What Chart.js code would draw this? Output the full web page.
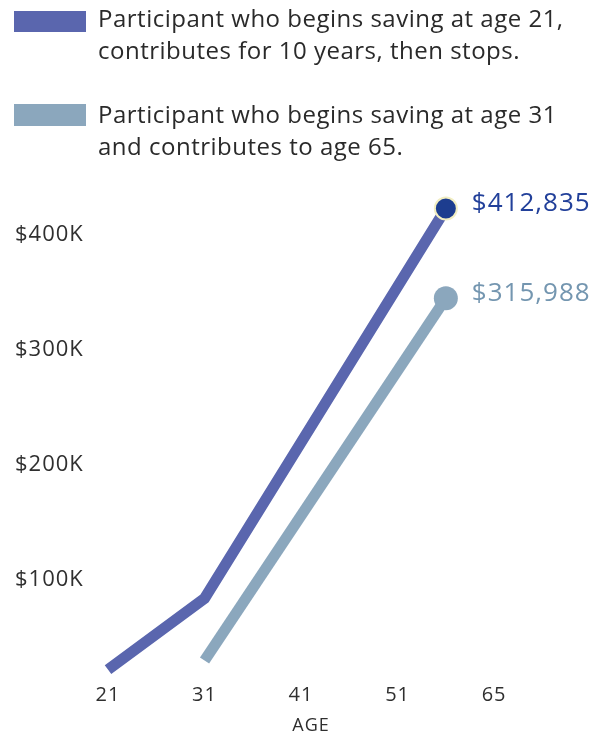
<!DOCTYPE html>
<html>
<head>
<meta charset="utf-8">
<script src="https://cdn.jsdelivr.net/npm/chart.js@4"></script>
<style>
  html, body { margin: 0; padding: 0; background: #fff; }
  body { width: 605px; height: 731px; position: relative; overflow: hidden; font-family: "Open Sans", sans-serif; }
  #wrap { position: absolute; left: 0; top: 0; width: 605px; height: 731px; }
  .sw { position: absolute; left: 14px; width: 72px; }
  .lt { position: absolute; left: 98px; font-size: 24px; line-height: 32px; letter-spacing: 0.5px; color: #2a2a2a; white-space: nowrap; }
</style>
</head>
<body>
<div id="wrap"><canvas id="c" width="605" height="731"></canvas></div>
<div class="sw" id="sw0" style="top:11px;height:21px"></div>
<div class="lt" id="lt0" style="top:2px"></div>
<div class="sw" id="sw1" style="top:104px;height:22px"></div>
<div class="lt" id="lt1" style="top:98px"></div>
<script>
// ---- data ----
const ageLabels = ['21', '31', '41', '51', '65'];
const yTickValues = [100000, 200000, 300000, 400000];
const seriesNames = [
  ['Participant who begins saving at age 21,', 'contributes for 10 years, then stops.'],
  ['Participant who begins saving at age 31', 'and contributes to age 65.']
];
// x = position along the age axis (index into ageLabels)
const earlyX = [0, 1, 3.5];
const earlyValues = [22000, 84000, 423000];
const lateX = [1, 3.5];
const lateValues = [30000, 345000];
const endLabels = ['$412,835', '$315,988'];

const colors = {
  early: '#5a66ae', late: '#8ba7bd',
  earlyDot: '#1d3d8f', earlyDotBorder: '#f2eec2',
  earlyText: '#22409a', lateText: '#7496b0',
  tick: '#2f2f2f'
};

document.getElementById('sw0').style.background = colors.early;
document.getElementById('sw1').style.background = colors.late;
document.getElementById('lt0').innerHTML = seriesNames[0].join('<br>');
document.getElementById('lt1').innerHTML = seriesNames[1].join('<br>');

const spacingPlugin = {
  id: 'spacing',
  beforeDraw(chart) { chart.ctx.letterSpacing = '1px'; },
  afterDraw(chart) { chart.ctx.letterSpacing = '0px'; }
};

const endLabelPlugin = {
  id: 'endLabels',
  afterDatasetsDraw(chart) {
    const ctx = chart.ctx;
    ctx.save();
    ctx.letterSpacing = '1px';
    ctx.font = '26px "Open Sans", sans-serif';
    ctx.textAlign = 'left';
    ctx.textBaseline = 'middle';
    const txtColors = [colors.earlyText, colors.lateText];
    chart.data.datasets.forEach((ds, i) => {
      const meta = chart.getDatasetMeta(i);
      const p = meta.data[meta.data.length - 1];
      ctx.fillStyle = txtColors[i];
      ctx.fillText(endLabels[i], p.x + 26, p.y - 5);
    });
    ctx.restore();
  }
};

const mk = (xs, ys) => xs.map((x, i) => ({ x: x, y: ys[i] }));
const lastOnly = (n, r) => Array.from({ length: n }, (_, i) => i === n - 1 ? r : 0);

new Chart(document.getElementById('c'), {
  type: 'line',
  data: {
    datasets: [
      {
        data: mk(earlyX, earlyValues),
        borderColor: colors.early,
        borderWidth: 11,
        borderCapStyle: 'butt',
        borderJoinStyle: 'miter',
        tension: 0,
        pointRadius: lastOnly(earlyX.length, 11),
        pointBackgroundColor: colors.earlyDot,
        pointBorderColor: colors.earlyDotBorder,
        pointBorderWidth: 2,
        pointHoverRadius: lastOnly(earlyX.length, 11)
      },
      {
        data: mk(lateX, lateValues),
        borderColor: colors.late,
        borderWidth: 11,
        borderCapStyle: 'butt',
        tension: 0,
        pointRadius: lastOnly(lateX.length, 12),
        pointBackgroundColor: colors.late,
        pointBorderColor: colors.late,
        pointBorderWidth: 0,
        pointHoverRadius: lastOnly(lateX.length, 12)
      }
    ]
  },
  options: {
    responsive: false,
    animation: false,
    clip: false,
    layout: { padding: { left: 15, right: 69, top: 177.5, bottom: 0 } },
    plugins: { legend: { display: false }, tooltip: { enabled: false } },
    scales: {
      x: {
        type: 'linear',
        min: -0.228,
        max: 4.434,
        grid: { display: false },
        border: { display: false },
        afterBuildTicks: (s) => { s.ticks = ageLabels.map((_, i) => ({ value: i })); },
        afterFit: (s) => { s.height = 47.5; },
        ticks: {
          padding: -6,
          color: colors.tick,
          font: { family: '"Open Sans", sans-serif', size: 20, lineHeight: 1 },
          callback: (v) => ageLabels[v]
        },
        title: {
          display: true,
          text: 'AGE',
          color: colors.tick,
          padding: { top: 0, bottom: -4 },
          font: { family: '"Open Sans", sans-serif', size: 18, lineHeight: 1 }
        }
      },
      y: {
        min: 10000,
        max: 450000,
        grid: { display: false },
        border: { display: false },
        afterBuildTicks: (s) => { s.ticks = yTickValues.map(v => ({ value: v })); },
        afterFit: (s) => { s.width = 71; },
        ticks: {
          crossAlign: 'far',
          color: colors.tick,
          font: { family: '"Open Sans", sans-serif', size: 22 },
          callback: (v) => '$' + (v / 1000) + 'K'
        }
      }
    }
  },
  plugins: [spacingPlugin, endLabelPlugin]
});
</script>
</body>
</html>
